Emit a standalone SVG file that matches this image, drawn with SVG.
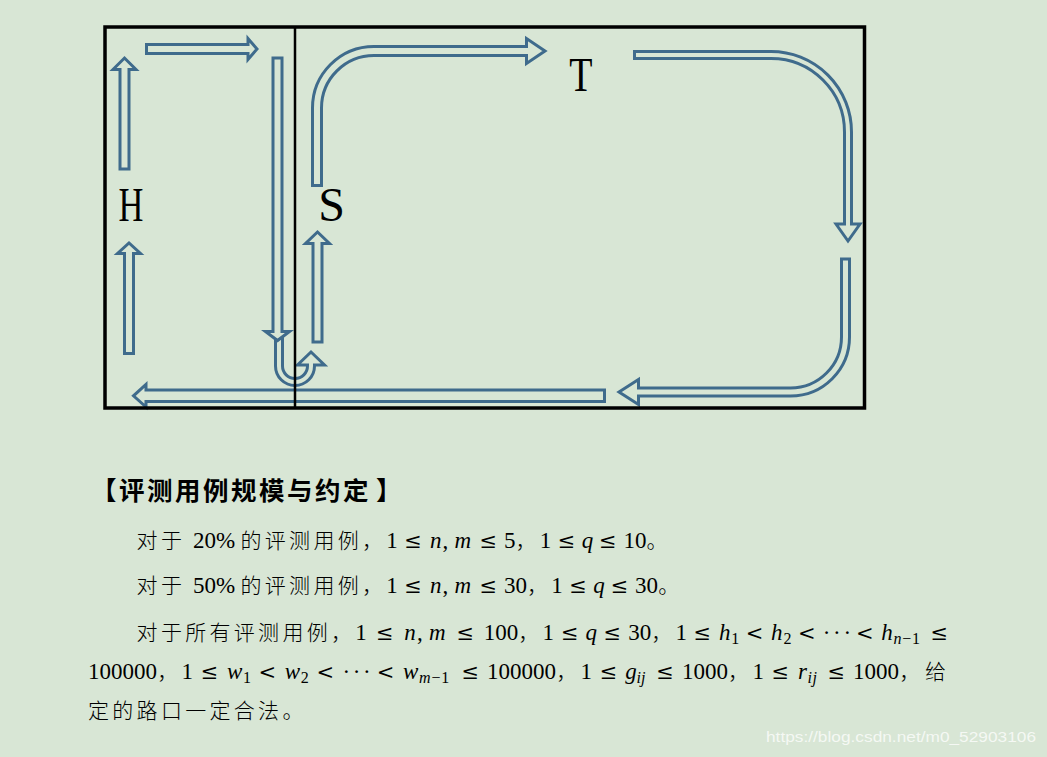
<svg xmlns="http://www.w3.org/2000/svg" width="1047" height="757" viewBox="0 0 1047 757">
<style>
.bg{fill:#D8E6D5}
.frame{fill:none;stroke:#000;stroke-width:3.5}
.div{stroke:#000;stroke-width:2.5}
.arr{fill:none;stroke:#3F6B8C;stroke-width:3;stroke-linejoin:miter}
.lbl{font-family:"Liberation Serif","Times New Roman",serif;font-size:48px;fill:#000}
.h{font-family:"Noto Sans CJK SC",sans-serif;font-size:25.5px;font-weight:bold;letter-spacing:2.5px;fill:#000}
.c{font-family:"Noto Sans CJK SC",sans-serif;font-size:21px;font-weight:300;letter-spacing:3.3px;fill:#000}
.m{font-family:"Liberation Serif","DejaVu Serif",serif;font-size:23px;fill:#000}
.r{font-family:"DejaVu Serif","Liberation Serif",serif;font-size:21px}
.i{font-style:italic}
.s{font-size:16px}
.wm{font-family:"Liberation Sans",sans-serif;font-size:14.5px;fill:#fff;fill-opacity:.75}
</style>
<rect class="bg" x="0" y="0" width="1047" height="757"/>

<g id="connectors">
  <path class="arr" d="M146.5,44.5 H248 V38.5 L257,49 L248,59.5 V53.5 H146.5 Z"/>
  <path class="arr" d="M120,169 V69.5 H113 L124.5,58 L136,69.5 H129 V169 Z"/>
  <path class="arr" d="M124.5,353.5 V253.5 H117.5 L129,243 L140.5,253.5 H133.5 V353.5 Z"/>
  <path class="arr" d="M273,58 H282 V331.5 H289.5 L277.5,340.5 L265.5,331.5 H273 Z"/>
  <path class="arr" d="M275.5,338.5 V366 A19.5,19.5 0 0 0 314.5,366 V365 H324.5 L311,352 L297.5,365 H307.5 V366 A12.5,12.5 0 0 1 282.5,366 V336"/>
  <path class="arr" d="M313,342 V243.5 H305.5 L317.5,232 L329.5,243.5 H322 V342 Z"/>
  <path class="arr" d="M312.5,185.5 V108 A61.5,61.5 0 0 1 374,46.5 H526.5 V38.5 L545,51 L526.5,63.5 V55.5 H374 A52.5,52.5 0 0 0 321.5,108 V185.5 Z"/>
  <path class="arr" d="M634.5,51.5 H771 A80.5,80.5 0 0 1 851.5,132 V224 H860 L848,241 L836,224 H844.5 V132 A73.5,73.5 0 0 0 771,58.5 H634.5 Z"/>
  <path class="arr" d="M841.5,259 H849.5 V337 A59,59 0 0 1 790.5,396 H638.5 V404.5 L619,392 L638.5,379.5 V388 H790.5 A51,51 0 0 0 841.5,337 Z"/>
  <path class="arr" d="M604.5,390 H146 V384.5 L133.5,395.8 L146,407 V401.5 H604.5 Z"/>
</g>

<g id="frame">
  <rect class="frame" x="105" y="27" width="759.5" height="381"/>
  <line class="div" x1="295" y1="27" x2="295" y2="408"/>
</g>

<g id="node-H"><text class="lbl" x="118.6" y="220.5" textLength="24.9" lengthAdjust="spacingAndGlyphs">H</text></g>
<g id="node-S"><text class="lbl" x="318.3" y="221">S</text></g>
<g id="node-T"><text class="lbl" x="569.3" y="91" textLength="23.2" lengthAdjust="spacingAndGlyphs">T</text></g>

<g id="text">
  <text class="h" x="91" y="500">【评测用例规模与约定<tspan dx="5">】</tspan></text>

  <text class="c" x="136.6" y="547.5">对于</text>
  <text class="m" x="193" y="547.5">20%</text>
  <text class="c" x="240.5" y="547.5">的评测用例，</text>
  <text class="m" y="547.5"><tspan x="386.3">1</tspan><tspan class="r" x="404.3">≤</tspan><tspan class="i" x="429.9">n</tspan><tspan x="442.5">,</tspan><tspan class="i" x="454.6">m</tspan><tspan class="r" x="479.5">≤</tspan><tspan x="503.9">5</tspan></text>
  <text class="c" x="515.4" y="547.5">，</text>
  <text class="m" y="547.5"><tspan x="539.7">1</tspan><tspan class="r" x="557.7">≤</tspan><tspan class="i" x="581.7">q</tspan><tspan class="r" x="599.1">≤</tspan><tspan x="623.5">10</tspan></text>
  <text class="c" x="646.6" y="547.5">。</text>

  <text class="c" x="136.6" y="592.5">对于</text>
  <text class="m" x="193" y="592.5">50%</text>
  <text class="c" x="240.5" y="592.5">的评测用例，</text>
  <text class="m" y="592.5"><tspan x="386.3">1</tspan><tspan class="r" x="404.3">≤</tspan><tspan class="i" x="429.9">n</tspan><tspan x="442.5">,</tspan><tspan class="i" x="454.6">m</tspan><tspan class="r" x="479.5">≤</tspan><tspan x="503.9">30</tspan></text>
  <text class="c" x="527" y="592.5">，</text>
  <text class="m" y="592.5"><tspan x="551.3">1</tspan><tspan class="r" x="569.3">≤</tspan><tspan class="i" x="593.3">q</tspan><tspan class="r" x="610.7">≤</tspan><tspan x="635.1">30</tspan></text>
  <text class="c" x="658.2" y="592.5">。</text>

  <text class="c" x="136.6" y="639.5">对于所有评测用例，</text>
  <text class="m" y="639.5"><tspan x="355.3">1</tspan><tspan class="r" x="376">≤</tspan><tspan class="i" x="404.3">n</tspan><tspan x="416.9">,</tspan><tspan class="i" x="429">m</tspan><tspan class="r" x="456.6">≤</tspan><tspan x="483.7">100</tspan></text>
  <text class="c" x="518.3" y="639.5">，</text>
  <text class="m" y="639.5"><tspan x="542.6">1</tspan><tspan class="r" x="561">≤</tspan><tspan class="i" x="585.5">q</tspan><tspan class="r" x="603.4">≤</tspan><tspan x="628.2">30</tspan></text>
  <text class="c" x="651.3" y="639.5">，</text>
  <text class="m" y="639.5"><tspan x="675.6">1</tspan><tspan class="r" x="693.6">≤</tspan><tspan class="i" x="718.9">h</tspan><tspan class="s" x="731.3" y="644">1</tspan><tspan class="r" x="745.8" y="639.5">&lt;</tspan><tspan class="i" x="771.1">h</tspan><tspan class="s" x="783.5" y="644">2</tspan><tspan class="r" x="798" y="639.5">&lt;</tspan><tspan x="822.7">·</tspan><tspan x="833">·</tspan><tspan x="843.4">·</tspan><tspan class="r" x="855.9">&lt;</tspan><tspan class="i" x="881.2">h</tspan><tspan class="s i" x="893.6" y="644">n</tspan><tspan class="s" x="902.3" y="644">−</tspan><tspan class="s" x="912" y="644">1</tspan><tspan class="r" x="930.4" y="639.5">≤</tspan></text>

  <text class="m" x="88" y="678.5">100000</text>
  <text class="c" x="157.3" y="678.5">，</text>
  <text class="m" y="678.5"><tspan x="181.6">1</tspan><tspan class="r" x="200.8">≤</tspan><tspan class="i" x="227">w</tspan><tspan class="s" x="242.9" y="683">1</tspan><tspan class="r" x="258.6" y="678.5">&lt;</tspan><tspan class="i" x="284.8">w</tspan><tspan class="s" x="300.8" y="683">2</tspan><tspan class="r" x="316.5" y="678.5">&lt;</tspan><tspan x="342.4">·</tspan><tspan x="352.7">·</tspan><tspan x="363.1">·</tspan><tspan class="r" x="376.8">&lt;</tspan><tspan class="i" x="402.9">w</tspan><tspan class="s i" x="418.9" y="683">m</tspan><tspan class="s" x="431.5" y="683">−</tspan><tspan class="s" x="441.2" y="683">1</tspan><tspan class="r" x="461.4" y="678.5">≤</tspan><tspan x="487">100000</tspan></text>
  <text class="c" x="556.3" y="678.5">，</text>
  <text class="m" y="678.5"><tspan x="580.6">1</tspan><tspan class="r" x="599.8">≤</tspan><tspan class="i" x="625.2">g</tspan><tspan class="s i" x="636.4" y="683">i</tspan><tspan class="s i" x="641" y="683">j</tspan><tspan class="r" x="656.3" y="678.5">≤</tspan><tspan x="681.9">1000</tspan></text>
  <text class="c" x="728.1" y="678.5">，</text>
  <text class="m" y="678.5"><tspan x="752.4">1</tspan><tspan class="r" x="771.6">≤</tspan><tspan class="i" x="797.9">r</tspan><tspan class="s i" x="807.6" y="683">i</tspan><tspan class="s i" x="812.6" y="683">j</tspan><tspan class="r" x="827.5" y="678.5">≤</tspan><tspan x="853.1">1000</tspan></text>
  <text class="c" x="899.3" y="678.5">，</text>
  <text class="c" x="925" y="678.5">给</text>

  <text class="c" x="88" y="717.5">定的路口一定合法。</text>

  <text class="wm" x="766" y="742" textLength="270" lengthAdjust="spacingAndGlyphs">https://blog.csdn.net/m0_52903106</text>
</g>
</svg>
